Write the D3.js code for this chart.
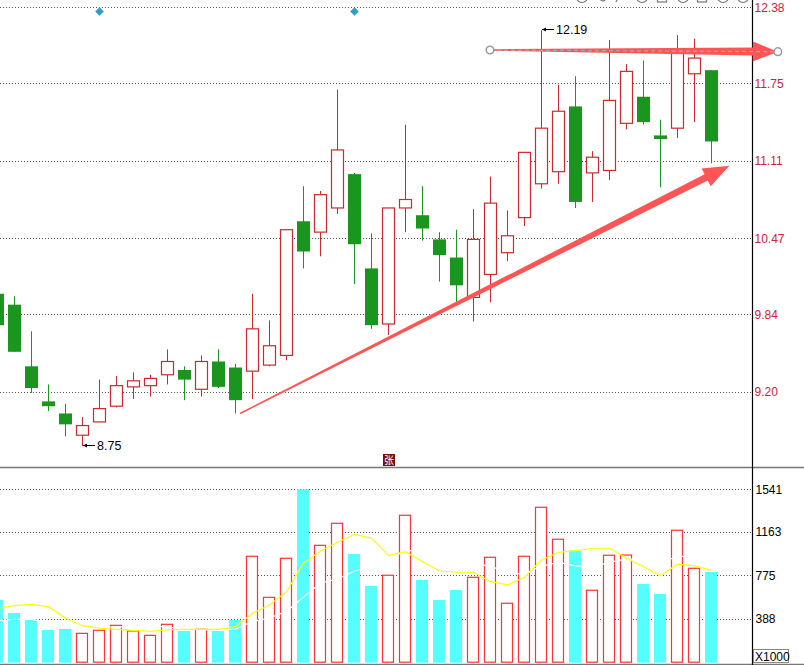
<!DOCTYPE html>
<html>
<head>
<meta charset="utf-8">
<script src="https://cdn.jsdelivr.net/npm/d3@7"></script>
<style>
  body { margin: 0; background: #fff; }
  svg { display: block; font-family: "Liberation Sans", Arial, sans-serif; }
</style>
</head>
<body>
<svg id="svg" width="804" height="665"></svg>
<script>
// daily candles, left to right (first one is cut off by the left edge)
const openP  = [10.01, 9.92, 9.41, 9.12, 9.02, 8.84, 8.95, 9.08, 9.24, 9.25, 9.34, 9.38, 9.22, 9.45, 9.40, 9.37, 9.42, 9.50, 10.61, 10.52, 10.72, 11.00, 10.22, 9.76, 10.72, 10.66, 10.46, 10.31, 9.98, 10.17, 10.35, 10.64, 10.92, 11.02, 11.56, 11.01, 11.03, 11.42, 11.64, 11.32, 11.38, 11.83, 11.86];
const highP  = [10.04, 9.99, 9.70, 9.26, 9.10, 8.99, 9.30, 9.33, 9.36, 9.34, 9.55, 9.41, 9.50, 9.55, 9.43, 10.01, 9.79, 10.54, 10.90, 10.86, 11.70, 11.01, 10.51, 10.72, 11.41, 10.90, 10.52, 10.54, 10.71, 10.98, 10.70, 11.18, 12.19, 11.74, 11.81, 11.19, 12.11, 11.91, 11.94, 11.45, 12.15, 12.12, 11.86];
const lowP   = [9.71, 9.53, 9.19, 9.04, 8.83, 8.75, 8.95, 9.07, 9.14, 9.16, 9.26, 9.13, 9.16, 9.23, 9.02, 9.14, 9.41, 9.46, 10.22, 10.32, 10.67, 10.09, 9.72, 9.67, 10.52, 10.45, 10.11, 9.94, 9.78, 9.94, 10.28, 10.57, 10.88, 10.92, 10.72, 10.77, 10.95, 11.37, 11.41, 10.89, 11.30, 11.43, 11.09];
const closeP = [9.75, 9.53, 9.23, 9.08, 8.93, 8.92, 9.06, 9.25, 9.29, 9.31, 9.45, 9.30, 9.45, 9.24, 9.13, 9.72, 9.58, 10.54, 10.36, 10.83, 11.20, 10.42, 9.75, 10.72, 10.79, 10.55, 10.33, 10.08, 10.46, 10.76, 10.49, 11.18, 11.38, 11.52, 10.77, 11.14, 11.61, 11.85, 11.43, 11.29, 12.03, 11.96, 11.27];

// volume (x1000) and its moving averages
const volume = [557, 442, 380, 291, 300, 261, 288, 332, 282, 243, 341, 282, 297, 282, 380, 946, 581, 928, 1541, 1043, 1239, 966, 682, 777, 1310, 735, 557, 646, 759, 937, 528, 946, 1381, 1097, 999, 644, 955, 957, 700, 611, 1177, 839, 806];
const volMa5  = [484, 507, 519, 498, 395, 329, 306, 297, 288, 279, 293, 297, 297, 297, 320, 439, 513, 631, 884, 993, 1070, 1141, 1106, 951, 987, 898, 815, 804, 804, 720, 691, 759, 913, 981, 996, 1017, 1017, 928, 853, 773, 875, 860, 821];
const volMa10 = [371, 386, 385, 360, 340, 325, 318, 316, 322, 330, 316, 300, 292, 291, 299, 367, 397, 456, 584, 708, 744, 815, 859, 909, 1002, 981, 979, 951, 872, 862, 791, 789, 859, 891, 860, 851, 891, 922, 916, 883, 948, 937, 880];

const priceTicks = [12.38, 11.75, 11.11, 10.47, 9.84, 9.20];
const volTicks = [1541, 1163, 775, 388];

// labelled extremes: [candle index, price]
const extremes = [[5, 8.75], [32, 12.19]];
// markers on the top line: candle index
const markers = [6, 21];
// hand drawn arrows in chart units: [index, price] -> [index, price]
const trendArrows = [
  { from: [14.27, 9.02], to: [43.05, 11.07], w0: 1.5, w1: 7, head: 26, half: 10, handles: false },
  { from: [28.97, 12.027], to: [45.9, 12.013], w0: 1.5, w1: 8, head: 25, half: 10, handles: true }
];

const width = 804;
const height = 665;
const axisX = 752.5;
const red = "#cc2a2a";
const green = "#1a961e";

const x = d3.scaleLinear().domain([0, 42]).range([-2.5, 711.5]);
const yPrice = d3.scaleLinear().domain([9.20, 12.38]).range([391.7, 7.3]);
const yVol = d3.scaleLinear().domain([0, 1541]).range([662.7, 489.3]);

const svg = d3.select("#svg");

const data = openP.map((o, i) => ({
  i, o, h: highP[i], l: lowP[i], c: closeP[i], v: volume[i]
}));
const isUp = d => d.c >= d.o;
const cx = d => Math.floor(x(d.i));

// grid lines
const grid = svg.append("g")
  .attr("stroke", "#555")
  .attr("stroke-dasharray", "1,2");
grid.selectAll(".gp")
  .data(priceTicks)
  .join("line")
  .attr("x1", 0).attr("x2", axisX)
  .attr("y1", d => Math.round(yPrice(d)) + 0.5)
  .attr("y2", d => Math.round(yPrice(d)) + 0.5);
grid.selectAll(".gv")
  .data(volTicks)
  .join("line")
  .attr("x1", 0).attr("x2", axisX)
  .attr("y1", d => Math.round(yVol(d)) + 0.5)
  .attr("y2", d => Math.round(yVol(d)) + 0.5);

// candles
const candle = svg.append("g").selectAll("g")
  .data(data)
  .join("g");

candle.append("line")
  .attr("x1", d => cx(d) + 0.5)
  .attr("x2", d => cx(d) + 0.5)
  .attr("y1", d => yPrice(d.h))
  .attr("y2", d => yPrice(d.l))
  .attr("stroke", d => isUp(d) ? red : green)
  .attr("stroke-width", 1);

candle.append("rect")
  .attr("x", d => isUp(d) ? cx(d) - 6 + 0.5 : cx(d) - 6)
  .attr("width", d => isUp(d) ? 12 : 13)
  .attr("y", d => yPrice(Math.max(d.o, d.c)))
  .attr("height", d => Math.max(2, Math.abs(yPrice(d.o) - yPrice(d.c))))
  .attr("fill", d => isUp(d) ? "#fff" : green)
  .attr("stroke", d => isUp(d) ? red : "none")
  .attr("stroke-width", 1.2);

// volume bars
svg.append("g").selectAll("rect")
  .data(data)
  .join("rect")
  .attr("x", d => isUp(d) ? cx(d) - 6 + 0.5 : cx(d) - 6)
  .attr("width", d => isUp(d) ? 11 : 12)
  .attr("y", d => yVol(d.v))
  .attr("height", d => yVol(0) - yVol(d.v) - (isUp(d) ? 0.5 : 0))
  .attr("fill", d => isUp(d) ? "#fff" : "#55ffff")
  .attr("stroke", d => isUp(d) ? "#ff3333" : "none")
  .attr("stroke-width", 1.2);

const maLine = d3.line()
  .x((d, i) => x(i))
  .y(d => yVol(d));

svg.append("path")
  .attr("d", maLine(volMa10))
  .attr("fill", "none")
  .attr("stroke", "#fff")
  .attr("stroke-width", 1.2);

svg.append("path")
  .attr("d", maLine(volMa5))
  .attr("fill", "none")
  .attr("stroke", "#ffff00")
  .attr("stroke-width", 1.2);

// panel frame
svg.append("line")
  .attr("x1", 0).attr("x2", width)
  .attr("y1", 467.5).attr("y2", 467.5)
  .attr("stroke", "#777").attr("stroke-width", 1.5);
svg.append("line")
  .attr("x1", 0).attr("x2", width)
  .attr("y1", 664.5).attr("y2", 664.5)
  .attr("stroke", "#777").attr("stroke-width", 1.5);
svg.append("line")
  .attr("x1", axisX).attr("x2", axisX)
  .attr("y1", 0).attr("y2", height)
  .attr("stroke", "#000").attr("stroke-width", 1.2);

// right axes
const priceAxis = svg.append("g")
  .attr("transform", `translate(${axisX},0)`)
  .call(d3.axisRight(yPrice).tickValues(priceTicks).tickSize(0).tickPadding(2).tickFormat(d3.format(".2f")));
priceAxis.select(".domain").remove();
priceAxis.selectAll("text")
  .attr("fill", "#d0203a")
  .style("font-size", "12px")
  .style("font-family", "Liberation Sans, Arial, sans-serif");

const volAxis = svg.append("g")
  .attr("transform", `translate(${axisX},0)`)
  .call(d3.axisRight(yVol).tickValues(volTicks).tickSize(0).tickPadding(3).tickFormat(d3.format("d")));
volAxis.select(".domain").remove();
volAxis.selectAll("text")
  .attr("fill", "#000")
  .style("font-size", "12px")
  .style("font-family", "Liberation Sans, Arial, sans-serif");

svg.append("rect")
  .attr("x", 753.5).attr("y", 649.5)
  .attr("width", 35).attr("height", 13)
  .attr("fill", "#fff").attr("stroke", "#888");
svg.append("text")
  .attr("x", 755).attr("y", 660.5)
  .attr("font-size", 12)
  .text("X1000");

// toolbar icons cut off at the top edge
const tools = svg.append("g").attr("fill", "none").attr("stroke", "#777").attr("stroke-width", 1.2);
[582, 642, 683, 723, 743].forEach(tx => tools.append("circle").attr("cx", tx).attr("cy", -3).attr("r", 5.5));
[662, 702].forEach(tx => tools.append("rect").attr("x", tx - 4.5).attr("y", -8).attr("width", 9).attr("height", 10));
tools.append("path").attr("d", "M598,-4 Q602,4 606,-1");
tools.append("path").attr("d", "M616,2 L619,-4");

// top markers
svg.append("g").selectAll("path")
  .data(markers)
  .join("path")
  .attr("d", d => `M${x(d)},7.2 L${x(d) + 4.3},11.5 L${x(d)},15.8 L${x(d) - 4.3},11.5 Z`)
  .attr("fill", "#2e9ccc");

// extreme labels
const ext = svg.append("g");
extremes.forEach(([i, p]) => {
  const px = cx(data[i]) + 1;
  const py = Math.round(yPrice(p)) - 0.5;
  ext.append("line")
    .attr("x1", px).attr("x2", px + 12)
    .attr("y1", py).attr("y2", py)
    .attr("stroke", "#000").attr("stroke-width", 1);
  ext.append("path")
    .attr("d", `M${px},${py} L${px + 4},${py - 2} L${px + 4},${py + 2} Z`)
    .attr("fill", "#000");
  ext.append("text")
    .attr("x", px + 14).attr("y", py)
    .attr("dy", "0.35em")
    .attr("font-size", 12.5)
    .attr("fill", "#000")
    .text(d3.format(".2f")(p));
});

// small tag under the candles
svg.append("rect")
  .attr("x", 383).attr("y", 454)
  .attr("width", 12).attr("height", 12)
  .attr("fill", "#7a0c0c");
svg.append("text")
  .attr("x", 389).attr("y", 460)
  .attr("text-anchor", "middle")
  .attr("dy", "0.36em")
  .attr("font-size", 10)
  .attr("fill", "#fff")
  .style("font-family", "Noto Sans CJK SC, sans-serif")
  .text("张");

// drawn arrows
function arrowPath(x0, y0, x1, y1, w0, w1, headLen, headW) {
  const dx = x1 - x0, dy = y1 - y0, len = Math.hypot(dx, dy);
  const ux = dx / len, uy = dy / len, nx = -uy, ny = ux;
  const bx = x1 - ux * headLen, by = y1 - uy * headLen;
  const pts = [
    [x0 + nx * w0 / 2, y0 + ny * w0 / 2],
    [bx + nx * w1 / 2, by + ny * w1 / 2],
    [bx + nx * headW, by + ny * headW],
    [x1, y1],
    [bx - nx * headW, by - ny * headW],
    [bx - nx * w1 / 2, by - ny * w1 / 2],
    [x0 - nx * w0 / 2, y0 - ny * w0 / 2]
  ];
  return d3.line()(pts) + "Z";
}

trendArrows.forEach(a => {
  const x0 = x(a.from[0]), y0 = yPrice(a.from[1]);
  const x1 = x(a.to[0]), y1 = yPrice(a.to[1]);
  svg.append("path")
    .attr("d", arrowPath(x0, y0, x1, y1, a.w0, a.w1, a.head, a.half))
    .attr("fill", "#ff5555");
  if (a.handles) {
    svg.append("line")
      .attr("x1", x0).attr("y1", y0)
      .attr("x2", x1).attr("y2", y1)
      .attr("stroke", "#aaa")
      .attr("stroke-width", 1.2)
      .attr("stroke-dasharray", "4,3");
    [[x0, y0], [x1, y1]].forEach(([hx, hy]) => {
      svg.append("circle")
        .attr("cx", hx).attr("cy", hy).attr("r", 3.8)
        .attr("fill", "#fff")
        .attr("stroke", "#999")
        .attr("stroke-width", 1.5);
    });
  }
});
</script>
</body>
</html>
